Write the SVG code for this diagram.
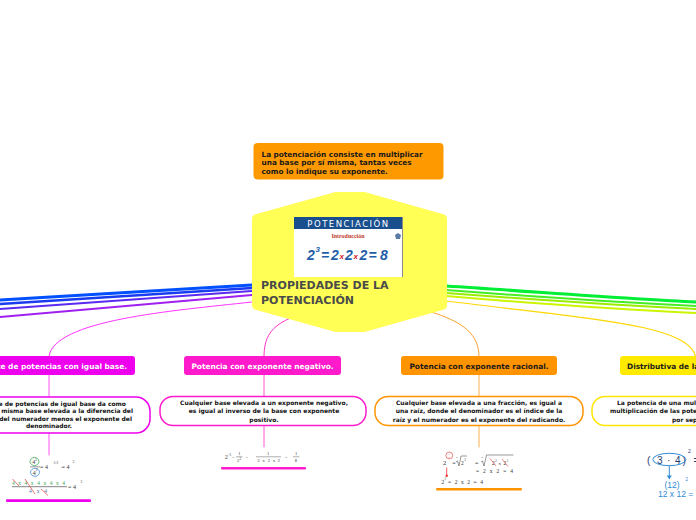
<svg xmlns="http://www.w3.org/2000/svg" width="696" height="520" viewBox="0 0 696 520">
<style>
.t{font-family:"DejaVu Sans",Verdana,sans-serif;font-weight:bold}
.n1{font-size:7.4px;text-anchor:middle}
.n2{font-size:6px;text-anchor:middle;fill:#111}
.b2{fill:#fff;stroke-width:1.5}
.f{font-family:"Liberation Serif","Times New Roman",serif;fill:#333}
.vl{stroke-width:1;fill:none}
</style>
<rect width="696" height="520" fill="#fff"/>
<g id="connectors" fill="none" stroke-linecap="round">
<path d="M252,285 C160,290 70,296 0,300" stroke="#0050FF" stroke-width="3.2"/>
<path d="M252,288 C160,294 70,299 0,304" stroke="#1a3cf0" stroke-width="2.4"/>
<path d="M252,291 C160,298 70,304 0,309" stroke="#5a2af0" stroke-width="2"/>
<path d="M252,295 C160,303 70,311 0,317" stroke="#a020f0" stroke-width="2"/>
<path d="M252,302 C170,311 55,320 49,356" stroke="#FF33FF" stroke-width="1"/>
<path d="M446,286 C540,292 630,299 696,302" stroke="#00EE33" stroke-width="3.2"/>
<path d="M446,290 C540,297 630,303 696,306" stroke="#44EE22" stroke-width="2"/>
<path d="M446,293 C540,300 630,306 696,309" stroke="#99EE00" stroke-width="2"/>
<path d="M446,296 C540,304 630,310 696,313" stroke="#CCF500" stroke-width="2"/>
<path d="M446,301 C600,320 690,325 696,358" stroke="#FFD700" stroke-width="1.2"/>
<path d="M428,311 C465,322 479,335 479,357" stroke="#FFA030" stroke-width="1"/>
<path d="M293,317 C270,326 264,338 264,357" stroke="#FF33CC" stroke-width="1"/>
<line x1="49" y1="375" x2="49" y2="397" stroke="#FF55FF" class="vl"/>
<line x1="49" y1="433" x2="49" y2="455" stroke="#FF55FF" class="vl"/>
<line x1="264" y1="375" x2="264" y2="396.5" stroke="#FF55D5" class="vl"/>
<line x1="264" y1="425.5" x2="264" y2="447" stroke="#FF55D5" class="vl"/>
<line x1="479" y1="375" x2="479" y2="396.5" stroke="#FFB050" class="vl"/>
<line x1="479" y1="425.5" x2="479" y2="447" stroke="#FFB050" class="vl"/>
</g>

<g id="note">
<rect x="253.5" y="143" width="190" height="36.5" rx="4" fill="#FF9900"/>
<text class="t" font-size="7.3" fill="#1a1a1a"><tspan x="261.5" y="156.5">La potenciación consiste en multiplicar</tspan><tspan x="261.5" y="165">una base por sí misma, tantas veces</tspan><tspan x="261.5" y="173.5">como lo indique su exponente.</tspan></text>
</g>

<g id="central">
<polygon points="257,219 336,197 364,197 442,219 442,305 364,327 336,327 257,305" fill="#FFFF55" stroke="#FFFF55" stroke-width="10" stroke-linejoin="round"/>
<g id="intro-image">
<rect x="294" y="217" width="109" height="60" fill="#fff"/>
<rect x="294" y="217" width="109" height="12" fill="#1a4f8e"/>
<line x1="402.5" y1="217" x2="402.5" y2="277" stroke="#8a8a8a" stroke-width="1"/>
<text x="348.5" y="226.8" text-anchor="middle" font-family="DejaVu Sans,sans-serif" font-size="8.5" fill="#fff" letter-spacing="1.5">POTENCIACIÓN</text>
<text x="348" y="237.5" text-anchor="middle" font-family="Liberation Serif,serif" font-weight="bold" font-size="6" fill="#c0392b">Introducción</text>
<path d="M395,235 l3,-2 l3,2 l-1,4 l-4,0 z" fill="#5a7aa8"/>
<g font-family="Liberation Sans,Arial,sans-serif" font-style="italic" font-weight="bold" fill="#1f5fa8">
<text x="307" y="260" font-size="14">2</text>
<text x="315.5" y="252" font-size="8">3</text>
<text x="321" y="260" font-size="14">=</text>
<text x="331" y="260" font-size="14">2</text>
<text x="339.5" y="259" font-size="8" fill="#d0202a">x</text>
<text x="345" y="260" font-size="14">2</text>
<text x="353.5" y="259" font-size="8" fill="#d0202a">x</text>
<text x="359.5" y="260" font-size="14">2</text>
<text x="368.5" y="260" font-size="14">=</text>
<text x="380" y="260" font-size="14">8</text>
</g>
</g>
<text class="t" font-size="11" fill="#4a4a4a"><tspan x="261" y="289">PROPIEDADES DE LA</tspan><tspan x="261" y="303.5">POTENCIACIÓN</tspan></text>
</g>

<g id="n-cociente">
<rect x="-37" y="356" width="172" height="19" rx="3" fill="#EE00EE"/>
<text class="t" font-size="7.4" fill="#fff" x="127" y="369" text-anchor="end">Cociente de potencias con igual base.</text>
</g>
<g id="n-negativo">
<rect x="184" y="356" width="157" height="19" rx="3" fill="#FF1ACB"/>
<text class="t n1" fill="#fff" x="262.5" y="369">Potencia con exponente negativo.</text>
</g>
<g id="n-racional">
<rect x="401" y="356" width="156" height="19" rx="3" fill="#FF9400"/>
<text class="t n1" fill="#1a1a1a" x="479" y="369">Potencia con exponente racional.</text>
</g>
<g id="n-distributiva">
<rect x="620" y="356" width="160" height="19" rx="3" fill="#FFEA00"/>
<text class="t" font-size="7.4" fill="#1a1a1a" x="627" y="369">Distributiva de la potenciación.</text>
</g>

<g id="d-cociente">
<rect x="-60" y="397" width="210" height="36" rx="14" class="b2" stroke="#EE00EE"/>
<text class="t" font-size="6" fill="#111" text-anchor="end"><tspan x="126" y="405.5">Cociente de potencias de igual base da como</tspan><tspan x="133" y="413">resultado la misma base elevada a la diferencia del</tspan><tspan x="132" y="420.8">exponente del numerador menos el exponente del</tspan></text>
<text class="t n2" x="49" y="428.3">denominador.</text>
</g>
<g id="d-negativo">
<rect x="160" y="396.5" width="206" height="29" rx="13" class="b2" stroke="#FF1ACB"/>
<text class="t n2"><tspan x="264" y="405">Cualquier base elevada a un exponente negativo,</tspan><tspan x="264" y="413.3">es igual al inverso de la base con exponente</tspan><tspan x="264" y="421.5">positivo.</tspan></text>
</g>
<g id="d-racional">
<rect x="375" y="396.5" width="208" height="29" rx="13" class="b2" stroke="#FF9400"/>
<text class="t n2"><tspan x="479" y="405">Cualquier base elevada a una fracción, es igual a</tspan><tspan x="479" y="413.3">una raíz, donde el denominador es el índice de la</tspan><tspan x="479" y="421.5">raíz y el numerador es el exponente del radicando.</tspan></text>
</g>
<g id="d-distributiva">
<rect x="592" y="396.5" width="200" height="29" rx="13" class="b2" stroke="#FFE600"/>
<text class="t" font-size="6" fill="#111"><tspan x="617" y="405">La potencia de una multiplicación es igual a la</tspan><tspan x="610" y="413.3">multiplicación de las potencias de cada factor</tspan><tspan x="672" y="421.5">por separado.</tspan></text>
</g>

<g id="formula-cociente" class="f">
<ellipse cx="34.5" cy="461.5" rx="4.5" ry="4" fill="none" stroke="#2a9d4a" stroke-width="0.7"/>
<text x="32.3" y="464" font-size="6">4</text><text x="35.3" y="460.5" font-size="3.5">5</text>
<line x1="30" y1="466.8" x2="40" y2="466.8" stroke="#333" stroke-width="0.5"/>
<ellipse cx="35" cy="472.3" rx="4.5" ry="4" fill="none" stroke="#2a7fd4" stroke-width="0.7"/>
<text x="32.8" y="474.6" font-size="6">4</text><text x="35.8" y="471" font-size="3.5">2</text>
<text x="40" y="469" font-size="6">= 4</text><text x="53.5" y="463.5" font-size="3.5">5-2</text>
<text x="61.5" y="469" font-size="6">= 4</text><text x="72.5" y="462.5" font-size="3.5">3</text>
<text x="12" y="484.5" font-size="5.5" fill="#3aa655" textLength="53">4 x 4 x 4 x 4 x 4</text>
<line x1="12" y1="486.7" x2="67" y2="486.7" stroke="#333" stroke-width="0.6"/>
<text x="29" y="493" font-size="5.5" fill="#5a6fb0" textLength="18">4 x 4</text>
<text x="68" y="489" font-size="6">= 4</text><text x="80.5" y="482.5" font-size="3.5">3</text>
<g stroke="#e02020" stroke-width="0.6"><line x1="12.5" y1="479" x2="19" y2="486"/><line x1="25" y1="479" x2="35" y2="494"/><line x1="41" y1="489" x2="48" y2="495.5"/></g>
<rect x="6" y="499.3" width="85" height="2.6" rx="1" fill="#EE00EE"/>
</g>

<g id="formula-negativo" class="f">
<text x="225" y="459" font-size="5.5">2</text><text x="228.3" y="455.5" font-size="3.3">-3</text>
<text x="232" y="459" font-size="5">=</text>
<text x="238.3" y="454.8" font-size="4.5">1</text>
<line x1="236" y1="456.8" x2="242.5" y2="456.8" stroke="#333" stroke-width="0.4"/>
<text x="237" y="462" font-size="4.5">2</text><text x="239.6" y="459.6" font-size="3">3</text>
<text x="245.5" y="459" font-size="5">=</text>
<text x="267" y="454.8" font-size="4.5">1</text>
<line x1="256" y1="456.8" x2="281" y2="456.8" stroke="#333" stroke-width="0.4"/>
<text x="257.5" y="462" font-size="4.5" textLength="22.5">2 x 2 x 2</text>
<text x="284.5" y="459" font-size="5">=</text>
<text x="295" y="454.8" font-size="4.5">1</text>
<line x1="293" y1="456.8" x2="299.5" y2="456.8" stroke="#333" stroke-width="0.4"/>
<text x="294.8" y="462" font-size="4.5">8</text>
<rect x="221" y="467" width="85" height="2.6" rx="1" fill="#FF1ACB"/>
</g>

<g id="formula-racional" class="f">
<text x="443" y="465" font-size="6.5">2</text>
<circle cx="449.3" cy="455.5" r="3.4" fill="none" stroke="#d33" stroke-width="0.6"/>
<text x="448.3" y="454.5" font-size="2.8" fill="#d33">3</text><text x="448.3" y="458.3" font-size="2.8" fill="#d33">2</text>
<text x="452.3" y="465" font-size="6">=</text>
<path d="M456,462 l1.5,-1 l1.5,5 l2,-10 h6" fill="none" stroke="#333" stroke-width="0.5"/>
<text x="456.3" y="458" font-size="2.6">2</text>
<text x="461" y="465" font-size="5.5">2</text><text x="464.3" y="461.3" font-size="3">3</text>
<text x="475" y="465" font-size="6">=</text>
<path d="M481,462 l1.5,-1 l1.5,5 l2.5,-11 h27" fill="none" stroke="#333" stroke-width="0.5"/>
<text x="481.6" y="457.5" font-size="2.6">2</text>
<text x="492" y="465" font-size="5.5">2</text><text x="495.3" y="461.5" font-size="3">2</text>
<text x="498.5" y="465" font-size="5">x</text>
<text x="503.5" y="465" font-size="5.5">2</text><text x="506.8" y="461.5" font-size="3">1</text>
<g stroke="#e02020" stroke-width="0.5"><line x1="490" y1="458.5" x2="496" y2="466"/><line x1="502" y1="459" x2="508" y2="466.5"/></g>
<text x="476" y="473" font-size="5.5" textLength="37">= 2 x 2 = 4</text>
<line x1="446.7" y1="467.5" x2="446.7" y2="475" stroke="#e33" stroke-width="0.8"/>
<circle cx="446.7" cy="475.7" r="1.2" fill="#e33"/>
<text x="441.5" y="484" font-size="5.5">2</text><text x="444.6" y="480.3" font-size="3">2</text>
<text x="448" y="484" font-size="5.5" textLength="35">= 2 x 2 = 4</text>
<rect x="436" y="488" width="86" height="2.6" rx="1" fill="#FF9400"/>
</g>

<g id="formula-distributiva" font-family="Liberation Sans,Arial,sans-serif" fill="#1e3a6e">
<text x="647" y="463.5" font-size="10">(</text>
<text x="657" y="463.5" font-size="10">3</text>
<text x="667" y="463.5" font-size="10">·</text>
<text x="675" y="463.5" font-size="10">4</text>
<text x="682.5" y="463.5" font-size="10">)</text>
<ellipse cx="669.3" cy="459.5" rx="16.5" ry="6.2" fill="none" stroke="#2e8bd8" stroke-width="1"/>
<text x="688" y="453" font-size="5">2</text>
<text x="693.5" y="463.5" font-size="10">=</text>
<line x1="669.3" y1="466" x2="669.3" y2="476" stroke="#2e8bd8" stroke-width="1"/>
<polygon points="666.8,475.5 671.8,475.5 669.3,479.5" fill="#2e8bd8"/>
<text x="664.5" y="488" font-size="8.5" fill="#2e8bd8">(12)</text>
<text x="685.5" y="480.5" font-size="4.5" fill="#2e8bd8">2</text>
<text x="658" y="497" font-size="8.5" fill="#2e8bd8">12 x 12 =</text>
</g>
</svg>
